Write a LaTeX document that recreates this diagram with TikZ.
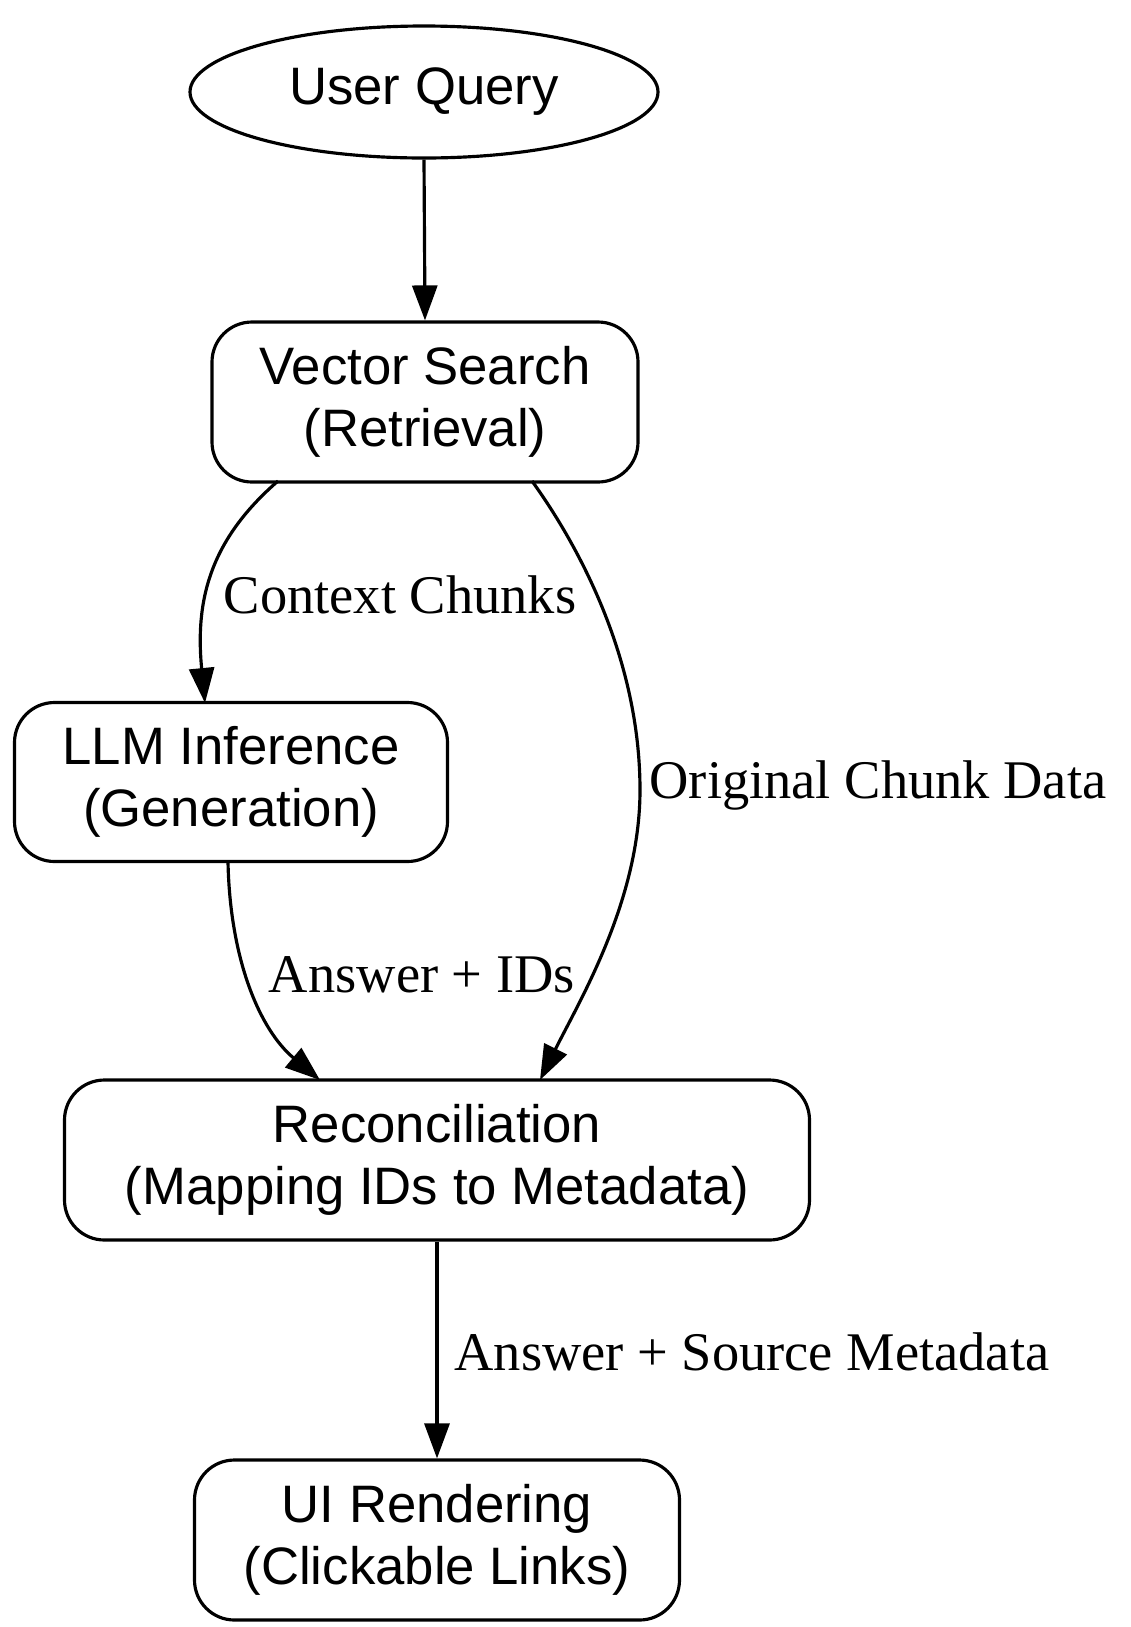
\documentclass[tikz,border=0pt]{standalone}
\usepackage{fontspec}
\setmainfont{Liberation Serif}
\newfontfamily\nodefont{Liberation Sans}
\usetikzlibrary{arrows.meta,shapes.geometric}
\begin{document}
\begin{tikzpicture}[x=0.02cm,y=-0.02cm,
  box/.style={draw,line width=1.8pt,rounded corners=0.8cm,inner sep=0pt,align=center,font=\nodefont\fontsize{30}{35}\selectfont},
  lab/.style={font=\fontsize{31}{35}\selectfont},
  arr/.style={line width=1.8pt,-{Triangle[length=0.7cm,width=0.5cm]}}]
\useasboundingbox (0,0) rectangle (1130,1627);
\node[draw,ellipse,line width=1.8pt,minimum width=468*0.02cm,minimum height=132*0.02cm,inner sep=0pt,font=\nodefont\fontsize{30}{35}\selectfont] (uq) at (424,92) {User Query};
\node[box,minimum width=426*0.02cm,minimum height=160*0.02cm] (vs) at (425,402) {Vector Search\\(Retrieval)};
\node[box,minimum width=433*0.02cm,minimum height=159*0.02cm] (llm) at (231,782) {LLM Inference\\(Generation)};
\node[box,minimum width=745*0.02cm,minimum height=160*0.02cm] (rec) at (437,1160) {Reconciliation\\(Mapping IDs to Metadata)};
\node[box,minimum width=485*0.02cm,minimum height=160*0.02cm] (ui) at (437,1540) {UI Rendering\\(Clickable Links)};
\coordinate (a1) at (278,481);
\coordinate (a2) at (532,481);
\coordinate (b1) at (228,862);
\coordinate (t2) at (205,703);
\coordinate (t3) at (320,1080);
\coordinate (t4) at (540,1080);
\draw[arr] (uq.south) -- (vs.north);
\draw[arr] (a1) .. controls (210,540) and (195,600) .. (t2);
\node[lab] (l1) at (400,595) {Context Chunks};
\draw[arr] (a2) .. controls (560,520) and (640,640) .. (640,790) .. controls (640,900) and (580,1000) .. (t4);
\node[lab] (l2) at (878,785) {Original Chunk Data};
\draw[arr] (b1) .. controls (230,960) and (260,1030) .. (t3);
\node[lab] (l3) at (422,975) {Answer + IDs};
\draw[arr] (rec.south) -- (ui.north);
\node[lab] (l4) at (752,1352) {Answer + Source Metadata};
\end{tikzpicture}
\end{document}
